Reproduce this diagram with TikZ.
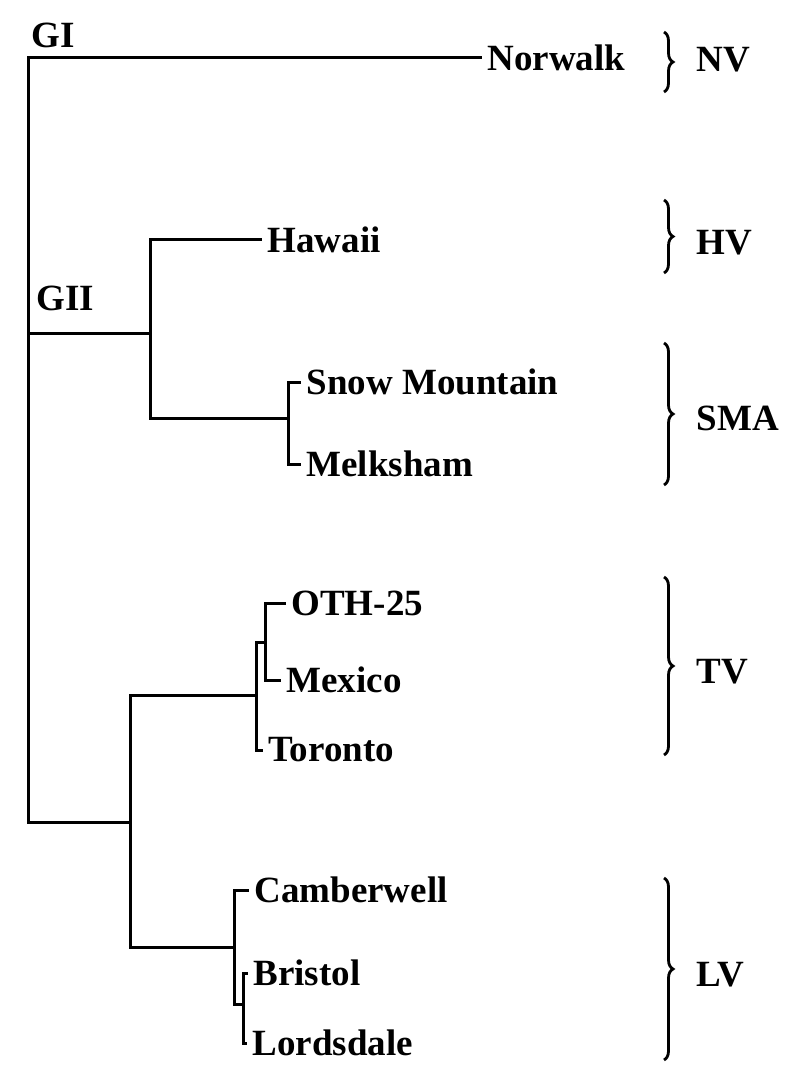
\documentclass[tikz,border=0pt]{standalone}
\usepackage{fontspec}
\setmainfont{Liberation Serif}
\usetikzlibrary{decorations.pathreplacing}
\begin{document}
\begin{tikzpicture}[x=0.5pt, y=-0.5pt, line width=1.5pt,
    every node/.style = {font=\fontsize{18.5}{22}\selectfont\bfseries},
    leaf/.style = {anchor=west, inner xsep=2pt, inner ysep=0pt},
    grp/.style = {anchor=west, inner sep=0pt},
    br/.style = {decorate, decoration={brace, amplitude=4.5pt}, line width=1.4pt}]
    \useasboundingbox (0,0) rectangle (787,1075);
    % leaves
    \node[leaf] (norwalk) at (482,58) {Norwalk};
    \node[leaf] (hawaii) at (262,240) {Hawaii};
    \node[leaf] (snow) at (301,382) {Snow Mountain};
    \node[leaf] (melk) at (301,464) {Melksham};
    \node[leaf] (oth) at (286,603) {OTH-25};
    \node[leaf] (mexico) at (281,680) {Mexico};
    \node[leaf] (toronto) at (263,750) {Toronto};
    \node[leaf] (camb) at (249,890) {Camberwell};
    \node[leaf] (bristol) at (248,973) {Bristol};
    \node[leaf] (lords) at (247,1043) {Lordsdale};
    % branch points
    \coordinate (root) at (28,333);
    \coordinate (g2) at (150,333);
    \coordinate (sm) at (288,418);
    \coordinate (low) at (130,822);
    \coordinate (tv) at (256,695);
    \coordinate (tv2) at (265,642);
    \coordinate (lv) at (234,947);
    \coordinate (lv2) at (243,1004);
    \node[grp] (gi) at (30,35) {GI};
    \node[grp] (gii) at (35,298) {GII};
      %
    \draw (root) |- (norwalk.west);
    \draw (root) |- (g2);
    \draw (root) |- (low);
    \draw (g2) |- (hawaii.west);
    \draw (g2) |- (sm);
    \draw (sm) |- (snow.west);
    \draw (sm) |- (melk.west);
    \draw (low) |- (tv);
    \draw (low) |- (lv);
    \draw (tv) |- (tv2);
    \draw (tv) |- (toronto.west);
    \draw (tv2) |- (oth.west);
    \draw (tv2) |- (mexico.west);
    \draw (lv) |- (camb.west);
    \draw (lv) |- (lv2);
    \draw (lv2) |- (bristol.west);
    \draw (lv2) |- (lords.west);
      %
    \draw[br] (664,32) -- (664,92);
    \draw[br] (664,200) -- (664,273);
    \draw[br] (664,343) -- (664,485);
    \draw[br] (664,577) -- (664,755);
    \draw[br] (664,878) -- (664,1060);
    \node[grp] (nv) at (695,60) {NV};
    \node[grp] (hv) at (695,243) {HV};
    \node[grp] (sma) at (695,418) {SMA};
    \node[grp] (tvl) at (695,672) {TV};
    \node[grp] (lvl) at (695,975) {LV};
  \end{tikzpicture}
\end{document}
